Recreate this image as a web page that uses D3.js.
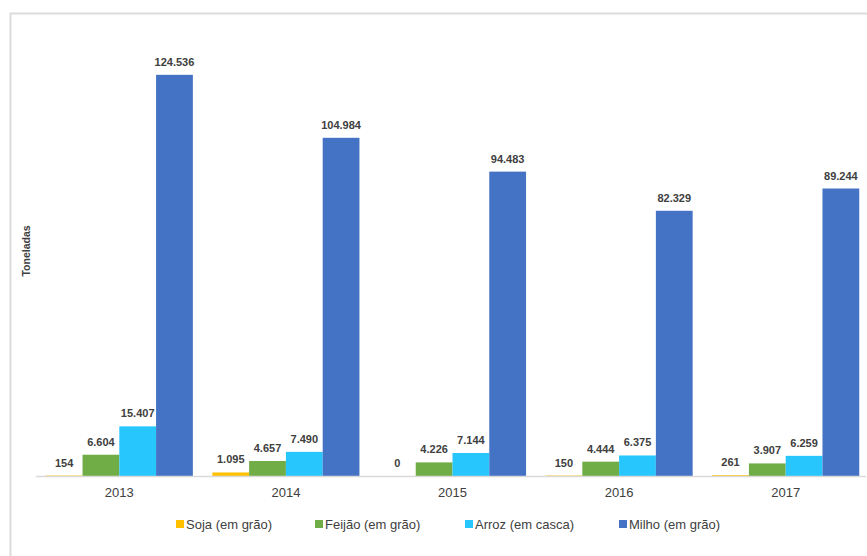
<!DOCTYPE html>
<html>
<head>
<meta charset="utf-8">
<script src="https://cdn.jsdelivr.net/npm/d3@7"></script>
<style>
  html, body { margin: 0; padding: 0; background: #ffffff; }
  svg { display: block; }
</style>
</head>
<body>
<svg id="chart" width="867" height="556"></svg>
<script>
// ---- data ----
const years = ["2013", "2014", "2015", "2016", "2017"];
const seriesNames = ["Soja (em grão)", "Feijão (em grão)", "Arroz (em casca)", "Milho (em grão)"];
const soja  = [154, 1095, 0, 150, 261];
const feijao = [6604, 4657, 4226, 4444, 3907];
const arroz = [15407, 7490, 7144, 6375, 6259];
const milho = [124536, 104984, 94483, 82329, 89244];
const yAxisTitle = "Toneladas";

const seriesValues = [soja, feijao, arroz, milho];
const colors = ["#FFC000", "#70AD47", "#27C6FD", "#4472C4"];

const svg = d3.select("#chart");
const baseFont = "'Liberation Sans Narrow', 'Liberation Sans', Arial, sans-serif";

// chart frame
svg.append("rect")
  .attr("x", 10.5).attr("y", 13.5)
  .attr("width", 900).attr("height", 600)
  .attr("fill", "none")
  .attr("stroke", "#dcdcdc")
  .attr("stroke-width", 2);

// scales
const x0 = d3.scaleBand().domain(years).range([36, 869])
  .paddingInner(0.117).paddingOuter(0.0585);
const x1 = d3.scaleBand().domain(seriesNames).range([0, x0.bandwidth()]);
const y = d3.scaleLinear().domain([0, 140000]).range([476, 25]);

const rows = [];
years.forEach((yr, i) => {
  seriesNames.forEach((s, j) => {
    rows.push({ year: yr, series: s, value: seriesValues[j][i], color: colors[j] });
  });
});

const fmt = v => d3.format(",")(v).replace(/,/g, ".");

// bars
svg.append("g").selectAll("rect")
  .data(rows).join("rect")
  .attr("x", d => x0(d.year) + x1(d.series))
  .attr("y", d => y(d.value))
  .attr("width", x1.bandwidth())
  .attr("height", d => y(0) - y(d.value))
  .attr("fill", d => d.color);

// value labels
svg.append("g").selectAll("text")
  .data(rows).join("text")
  .attr("x", d => x0(d.year) + x1(d.series) + x1.bandwidth() / 2)
  .attr("y", d => y(d.value) - 9)
  .attr("text-anchor", "middle")
  .attr("font-family", baseFont)
  .attr("font-size", 11)
  .attr("font-weight", "bold")
  .attr("fill", "#404040")
  .text(d => fmt(d.value));

// x axis
const xAxis = d3.axisBottom(x0).tickSize(0).tickPadding(12);
const gx = svg.append("g").attr("transform", `translate(0,${y(0)})`).call(xAxis);
gx.select(".domain").attr("stroke", "#d9d9d9").attr("stroke-width", 1.5)
  .attr("d", "M36,0.5H866");
gx.selectAll(".tick text")
  .attr("font-family", baseFont)
  .attr("font-size", 13)
  .attr("fill", "#404040");

// y axis title
svg.append("text")
  .attr("transform", "translate(30,251) rotate(-90)")
  .attr("text-anchor", "middle")
  .attr("font-family", baseFont)
  .attr("font-size", 10.5)
  .attr("font-weight", "bold")
  .attr("fill", "#404040")
  .text(yAxisTitle);

// legend
const legendX = [176, 315, 465, 619];
const lg = svg.append("g").selectAll("g")
  .data(seriesNames).join("g")
  .attr("transform", (d, i) => `translate(${legendX[i]},524)`);
lg.append("rect")
  .attr("x", 0).attr("y", -4)
  .attr("width", 8).attr("height", 8)
  .attr("fill", (d, i) => colors[i]);
lg.append("text")
  .attr("x", 10).attr("y", 4.5)
  .attr("font-family", baseFont)
  .attr("font-size", 13)
  .attr("fill", "#404040")
  .text(d => d);
</script>
</body>
</html>
